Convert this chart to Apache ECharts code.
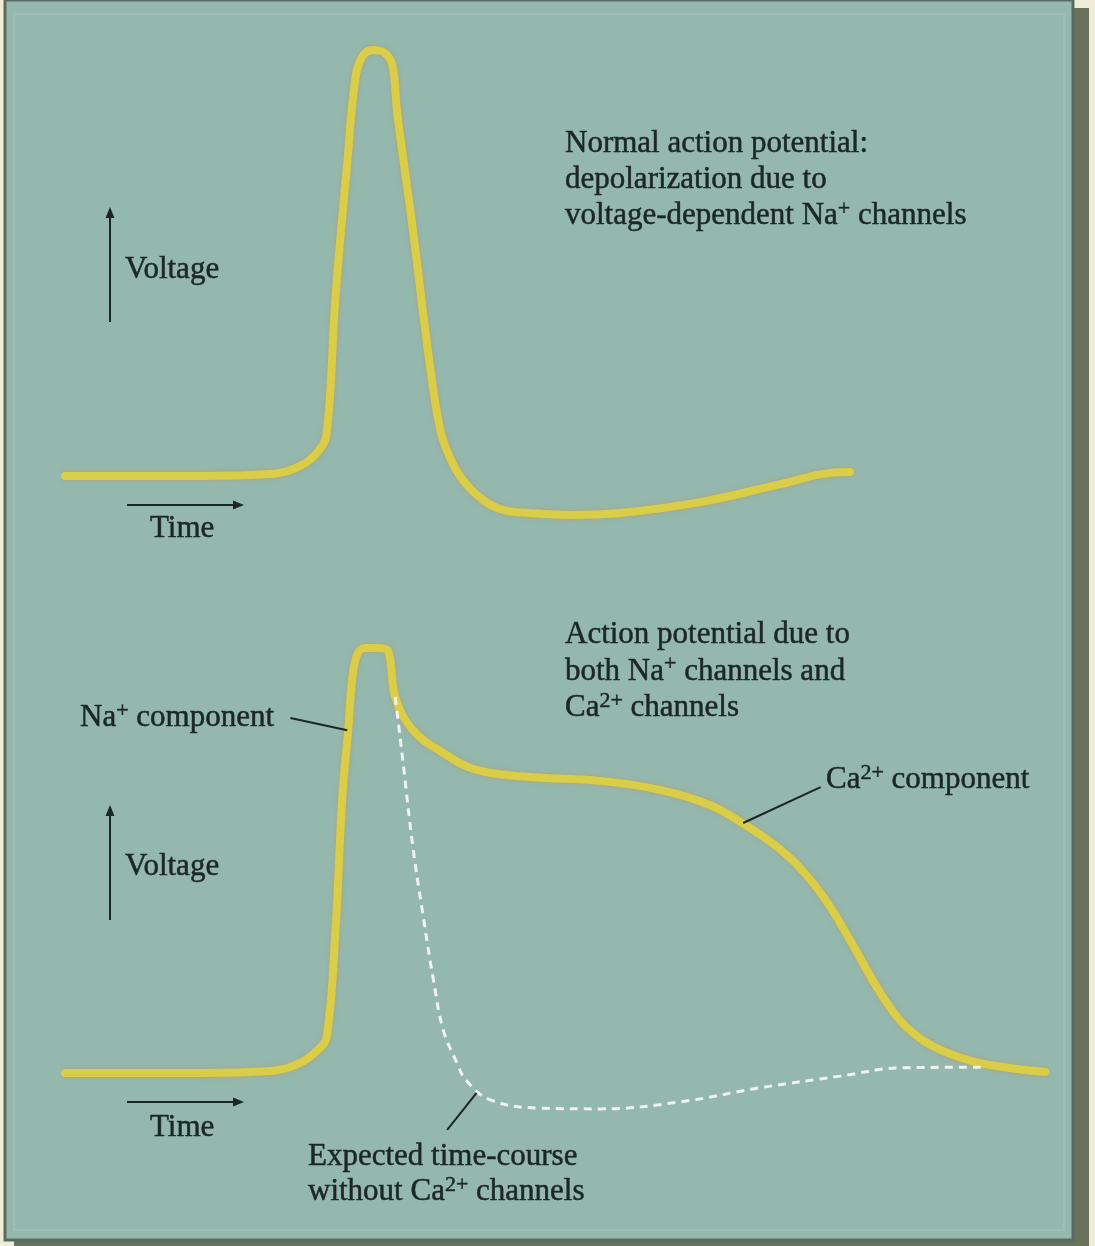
<!DOCTYPE html>
<html>
<head>
<meta charset="utf-8">
<script src="https://cdn.jsdelivr.net/npm/echarts@6/dist/echarts.min.js"></script>
<style>
  html, body { margin: 0; padding: 0; background: #f1ecd8; }
  #chart { width: 1095px; height: 1246px; }
</style>
</head>
<body>
<div id="chart"></div>
<script>
// Membrane voltage traces: time (ms, schematic) and voltage (mV, schematic)

// Normal action potential (Na+ channels only)
const normalTime = [0, 13.8, 20.9, 24.0, 25.8, 26.7, 27.6, 28.8, 29.6, 30.3, 31.4, 32.6, 33.4, 33.9, 35.5, 37.2, 38.3, 39.3, 40.6, 42.7, 44.7, 47.4, 51.5, 56.6, 64.8, 73.0, 78.1, 80.1];
const normalVoltage = [-70, -70, -69.5, -67.4, -63.8, -59, -24.1, 10.3, 31.5, 37.4, 39.2, 38.5, 35.4, 23.1, -6.9, -41, -58.2, -65.4, -71, -76.2, -78.7, -79.5, -80, -79.5, -76.7, -72.1, -69.2, -69];

// Action potential with both Na+ and Ca2+ components
const mixedTime = [0, 13.8, 20.9, 24.0, 25.8, 26.7, 27.6, 28.3, 28.9, 29.3, 29.8, 30.6, 32.1, 33.0, 33.7, 35.5, 38.6, 42.0, 47.4, 54.6, 60.7, 65.8, 69.4, 72.4, 75.0, 77.6, 80.1, 82.7, 85.0, 87.2, 89.8, 92.9, 96.4, 100];
const mixedVoltage = [-70, -70, -69.5, -67.4, -64.1, -60.8, -33.3, 0.8, 18, 30.8, 37.2, 39, 39, 38, 26.4, 17.9, 12.1, 7.7, 5.9, 4.9, 2.6, -1.3, -6.4, -11.5, -17.4, -25.6, -35.9, -47.4, -55.9, -61.0, -64.6, -67.2, -68.7, -69.7];

// Expected repolarisation without Ca2+ channels
const noCaTime = [33.7, 34.5, 35.5, 36.5, 37.6, 38.6, 40.0, 40.9, 43.4, 48.5, 54.6, 62.8, 70.9, 79.1, 85.2, 93.9];
const noCaVoltage = [26.4, 9.5, -12.1, -29, -46.2, -59, -67.4, -71.8, -76.9, -79, -79.2, -77.4, -73.8, -70.8, -68.7, -68.5];

const zip = (xs, ys) => xs.map((x, i) => [x, ys[i]]);

const SERIF = "'Liberation Serif', 'Times New Roman', serif";
const INK = '#1c2724';
const TRACE = '#dacd48';
const supStyle = { fontSize: 22, fontFamily: SERIF, fill: INK, stroke: INK, lineWidth: 0.5, verticalAlign: 'top', lineHeight: 24 };

function label(x, y, text, lineHeight) {
  return {
    type: 'text', x: x, y: y, z: 5,
    style: {
      text: text, fontFamily: SERIF, fontSize: 31, fill: INK,
      stroke: INK, lineWidth: 0.5,
      lineHeight: lineHeight || 36, verticalAlign: 'top', align: 'left',
      rich: { s: supStyle }
    }
  };
}

// Small arrow (shaft plus filled head) used for the Voltage / Time indicators
function arrow(x1, y1, x2, y2) {
  const ang = Math.atan2(y2 - y1, x2 - x1);
  const L = 11, W = 4.5;
  const bx = x2 - L * Math.cos(ang), by = y2 - L * Math.sin(ang);
  const px = -Math.sin(ang) * W, py = Math.cos(ang) * W;
  return [
    { type: 'line', z: 5, shape: { x1: x1, y1: y1, x2: bx, y2: by }, style: { stroke: INK, lineWidth: 2 } },
    { type: 'polygon', z: 5, shape: { points: [[x2, y2], [bx + px, by + py], [bx - px, by - py]] }, style: { fill: INK } }
  ];
}

const leaderStyle = { color: INK, width: 2, type: 'solid' };
function leader(a, b) {
  return [{ coord: a, symbol: 'none' }, { coord: b, symbol: 'none' }];
}

const chart = echarts.init(document.getElementById('chart'), null, { renderer: 'canvas' });

const grids = [
  { left: 65, width: 980, top: 8, height: 546 },
  { left: 65, width: 980, top: 605, height: 546 }
];
const xAxes = grids.map((g, i) => ({ type: 'value', gridIndex: i, min: 0, max: 100, show: false }));
const yAxes = grids.map((g, i) => ({ type: 'value', gridIndex: i, min: -90, max: 50, show: false }));

const traceLine = {
  color: TRACE, width: 8, cap: 'round', join: 'round',
  shadowColor: 'rgba(205,140,60,0.55)', shadowBlur: 4
};

chart.setOption({
  animation: false,
  backgroundColor: '#f1ecd8',
  grid: grids,
  xAxis: xAxes,
  yAxis: yAxes,
  graphic: [
    // panel shadow and panel
    { type: 'rect', z: -2, shape: { x: 14, y: 8, width: 1075, height: 1238 }, style: { fill: '#68715a' } },
    { type: 'rect', z: -1, shape: { x: 5, y: 0, width: 1068, height: 1240 }, style: { fill: '#94b8ae', stroke: '#5a6a63', lineWidth: 3 } },
    { type: 'rect', z: -1, shape: { x: 14, y: 14, width: 1050, height: 1216 }, style: { fill: 'none', stroke: 'rgba(255,255,255,0.10)', lineWidth: 2 } },

    // top panel annotations
    label(565, 126, 'Normal action potential:\ndepolarization due to\nvoltage-dependent Na{s|+} channels', 36),
    label(125, 252, 'Voltage'),
    label(150, 511, 'Time'),
    ...arrow(110, 322, 110, 207),
    ...arrow(127, 505, 244, 505),

    // bottom panel annotations
    label(565, 617, 'Action potential due to\nboth Na{s|+} channels and\nCa{s|2+} channels', 36.5),
    label(80, 700, 'Na{s|+} component'),
    label(826, 762, 'Ca{s|2+} component'),
    label(308, 1139, 'Expected time-course\nwithout Ca{s|2+} channels', 35),
    label(125, 849, 'Voltage'),
    label(150, 1110, 'Time'),
    ...arrow(110, 920, 110, 805),
    ...arrow(127, 1102, 244, 1102)
  ],
  series: [
    {
      name: 'Normal action potential', type: 'line', xAxisIndex: 0, yAxisIndex: 0,
      data: zip(normalTime, normalVoltage), smooth: 0.4, showSymbol: false, silent: true,
      lineStyle: traceLine, z: 3
    },
    {
      name: 'Na+ and Ca2+ action potential', type: 'line', xAxisIndex: 1, yAxisIndex: 1,
      data: zip(mixedTime, mixedVoltage), smooth: 0.4, showSymbol: false, silent: true,
      lineStyle: traceLine, z: 3,
      markLine: {
        silent: true, symbol: 'none', label: { show: false }, lineStyle: leaderStyle,
        data: [
          leader([23.0, 21.0], [28.8, 17.9]),   // Na+ component
          leader([77.1, 3.3], [69.2, -5.9])     // Ca2+ component
        ]
      }
    },
    {
      name: 'Without Ca2+ channels', type: 'line', xAxisIndex: 1, yAxisIndex: 1,
      data: zip(noCaTime, noCaVoltage), smooth: 0.4, showSymbol: false, silent: true,
      lineStyle: { color: '#eef4ef', width: 3, type: [8, 6] }, z: 4,
      markLine: {
        silent: true, symbol: 'none', label: { show: false }, lineStyle: leaderStyle,
        data: [ leader([39.0, -84.6], [42.0, -75.1]) ]
      }
    }
  ]
});
</script>
</body>
</html>
